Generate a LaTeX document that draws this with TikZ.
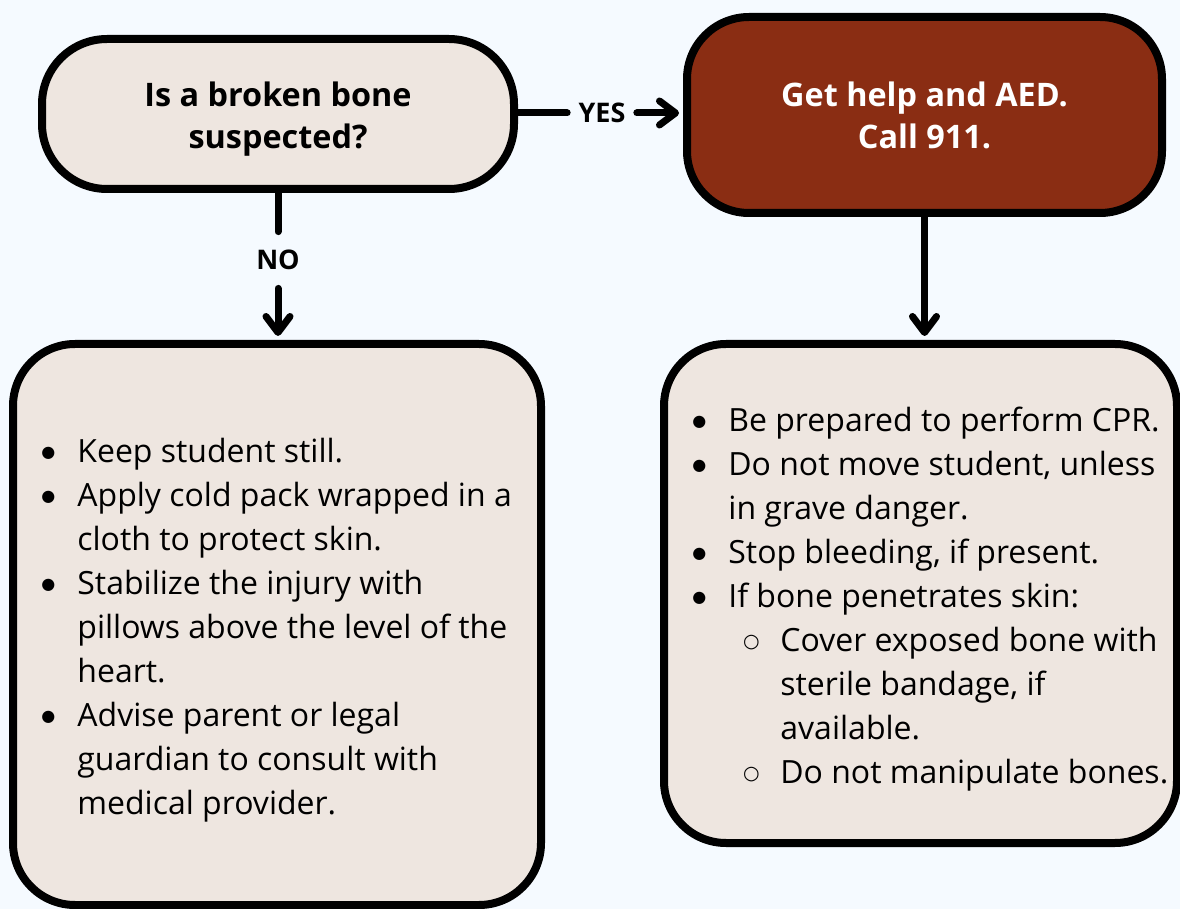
\documentclass[tikz,border=0pt]{standalone}
\usepackage{fontspec}
\setmainfont{Open Sans}
\newfontfamily\symfont{DejaVu Sans}
\usetikzlibrary{arrows.meta}

\definecolor{pagebg}{HTML}{F5FAFF}
\definecolor{cream}{HTML}{EEE6E0}
\definecolor{rust}{HTML}{8A2D13}

% list helpers: filled bullet, hollow sub-bullet, hanging indents
\newcommand{\bitem}[1]{\noindent\hangindent=18.5pt\hangafter=1
  \makebox[18.5pt][l]{\makebox[8pt][c]{\raisebox{2.8pt}{\symfont\fontsize{8pt}{8pt}\selectfont ●}}}#1\par}
\newcommand{\sitem}[1]{\noindent\hangindent=44.5pt\hangafter=1
  \hspace*{26pt}\makebox[18.5pt][l]{\makebox[0pt][c]{\hspace*{8pt}\raisebox{2.4pt}{\symfont\fontsize{9.5pt}{9.5pt}\selectfont ○}}}#1\par}

\begin{document}
\begin{tikzpicture}[x=0.5pt,y=-0.5pt,
  box/.style={draw=black, line width=4pt, rounded corners=31pt, fill=cream, inner sep=0pt},
  flow/.style={line width=3.5pt, line cap=round},
  tip/.style={-{Straight Barb[length=8pt,width=12pt,round]}},
  lbl/.style={font=\bfseries\fontsize{13.5pt}{16pt}\selectfont, inner xsep=5.5pt, inner ysep=9pt, text height=10pt, text depth=0pt},
  head/.style={font=\bfseries\fontsize{16.2pt}{21pt}\selectfont, align=center},
  listtext/.style={anchor=base west, inner sep=0pt, font=\fontsize{16pt}{22pt}\selectfont}
]
\useasboundingbox (0,0) rectangle (1180,909);
\fill[pagebg] (0,0) rectangle (1180,909);

% top row
\node[box, minimum width=236pt, minimum height=75pt, rounded corners=32.5pt] (q) at (278,114) {};
\node[head] (qtext) at (278,119) {Is a broken bone\\suspected?};
\node[box, fill=rust, minimum width=237.5pt, minimum height=98pt, head, text=white] (call) at (924.5,115)
  {Get help and AED.\\Call 911.};

% bottom row
\node[box, minimum width=264pt, minimum height=280.5pt] (no) at (277,624.5) {};
\node[box, minimum width=256.5pt, minimum height=249.5pt] (yes) at (920.5,593.5) {};

% branch labels
\node[lbl] (yeslbl) at (602,113) {YES};
\node[lbl] (nolbl) at (278,260) {NO};

% connectors
\draw[flow] (q.east |- yeslbl) -- (yeslbl.west);
\draw[flow, tip, shorten >=2pt] (yeslbl.east) -- (call.west |- yeslbl);
\draw[flow] (q.south -| nolbl) -- (nolbl.north);
\draw[flow, tip, shorten >=2pt] (nolbl.south) -- (nolbl |- no.north);
\draw[flow, tip, shorten >=2pt] (call.south) -- (call.south |- yes.north);

% list contents
\node[listtext] (notext) at (40,463) {\begin{minipage}[t]{260pt}
\bitem{Keep student still.}
\bitem{Apply cold pack wrapped in a\\cloth to protect skin.}
\bitem{Stabilize the injury with\\pillows above the level of the\\heart.}
\bitem{Advise parent or legal\\guardian to consult with\\medical provider.}
\end{minipage}};

\node[listtext] (yestext) at (691,432) {\begin{minipage}[t]{250pt}
\bitem{Be prepared to perform CPR.}
\bitem{Do not move student, unless\\in grave danger.}
\bitem{Stop bleeding, if present.}
\bitem{If bone penetrates skin:}
\sitem{Cover exposed bone with\\sterile bandage, if\\available.}
\sitem{Do not manipulate bones.}
\end{minipage}};
\end{tikzpicture}
\end{document}
